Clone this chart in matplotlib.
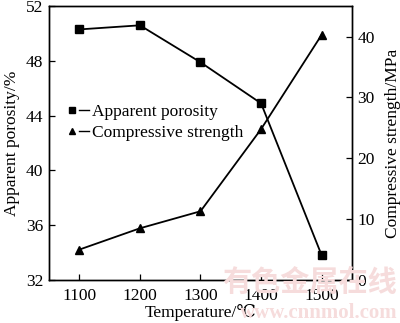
import matplotlib
matplotlib.use("Agg")
import matplotlib.pyplot as plt
from matplotlib.lines import Line2D
from matplotlib.legend_handler import HandlerTuple

plt.rcParams['font.family'] = ['Liberation Serif', 'DejaVu Serif', 'Noto Sans CJK SC']

temperature = [1100, 1200, 1300, 1400, 1500]
porosity = [50.3, 50.6, 47.9, 44.9, 33.8]
strength = [5.0, 8.5, 11.3, 24.8, 40.3]
x_ticks = [1100, 1200, 1300, 1400, 1500]
left_ticks = [32, 36, 40, 44, 48, 52]
right_ticks = [0, 10, 20, 30, 40]

fig = plt.figure(figsize=(4.0, 3.23), dpi=100)
ax = fig.add_axes([0.1225, 0.133, 0.7575, 0.848])
ax2 = ax.twinx()

# watermark (behind everything)
fig.text(0.993, 0.128, '有色金属在线', color='#f6dcdc', fontsize=21,
         fontweight='bold', family=['Noto Sans CJK SC'], ha='right', va='center', zorder=0)
fig.text(0.995, 0.032, 'www.cnnmol.com', color='#f6dcdc', fontsize=15,
         fontweight='bold', ha='right', va='center', zorder=0)
ax.patch.set_alpha(0)
ax2.patch.set_alpha(0)

ax.plot(temperature, porosity, color='black', lw=1.3, marker='s', ms=5.5)
ax2.plot(temperature, strength, color='black', lw=1.3, marker='^', ms=5.5)

ax.set_xlim(1050, 1550)
ax.set_ylim(32, 52)
ax2.set_ylim(0, 45)
ax.set_xticks(x_ticks)
ax.set_yticks(left_ticks)
ax2.set_yticks(right_ticks)

for a in (ax, ax2):
    a.tick_params(direction='in', length=4, width=0.9, labelsize=12.5, pad=4)
    for s in a.spines.values():
        s.set_linewidth(1.0)
ax.tick_params(axis='x', pad=6)

ax.set_xlabel('Temperature/℃', fontsize=12.5, labelpad=0)
ax.set_ylabel('Apparent porosity/%', fontsize=12.5, labelpad=4)
ax2.set_ylabel('Compressive strength/MPa', fontsize=12.5, labelpad=7)

h_sq = (Line2D([], [], color='black', marker='s', ms=4, ls='none'),
        Line2D([], [], color='black', lw=1.0))
h_tr = (Line2D([], [], color='black', marker='^', ms=4, ls='none'),
        Line2D([], [], color='black', lw=1.0))
ax.legend([h_sq, h_tr], ['Apparent porosity', 'Compressive strength'],
          handler_map={tuple: HandlerTuple(ndivide=None, pad=0.1)},
          loc='upper left', bbox_to_anchor=(0.035, 0.668), frameon=False,
          fontsize=12.5, handlelength=1.3, handletextpad=0.15,
          labelspacing=0.25, borderaxespad=0)

fig.savefig('out.png', dpi=100)
